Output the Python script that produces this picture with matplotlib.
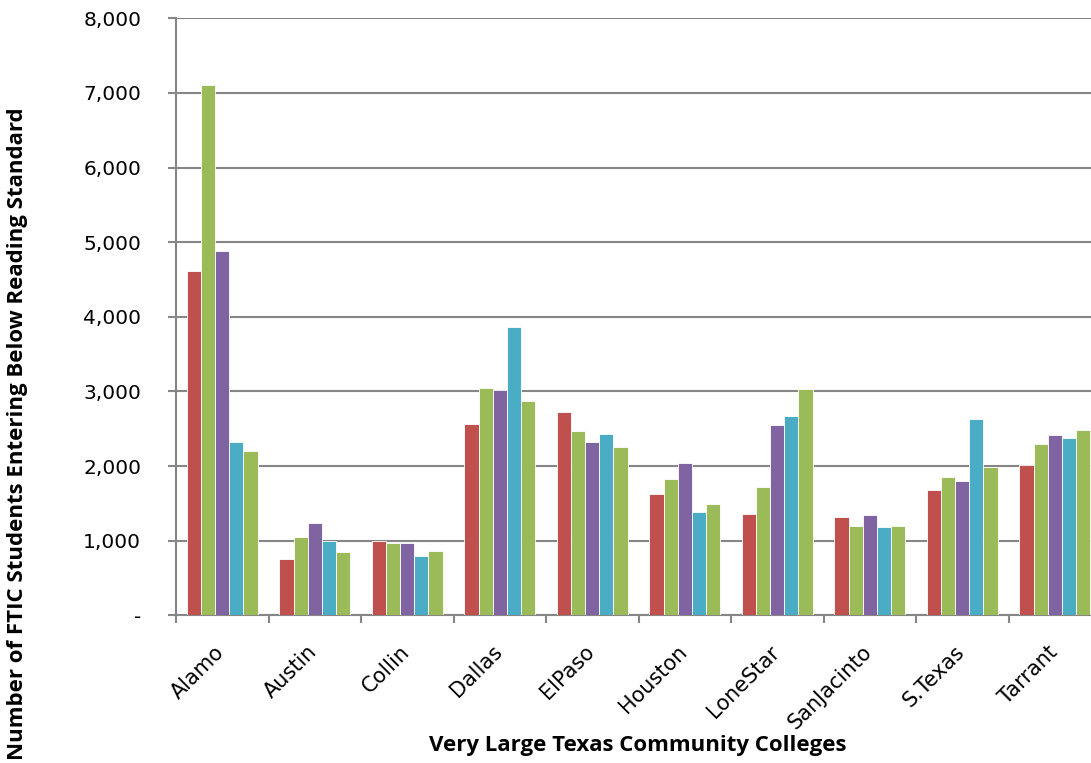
import matplotlib
matplotlib.use("Agg")
import matplotlib.pyplot as plt
import numpy as np
from matplotlib.ticker import FuncFormatter, FixedLocator

colleges = ["Alamo", "Austin", "Collin", "Dallas", "ElPaso", "Houston",
            "LoneStar", "SanJacinto", "S.Texas", "Tarrant"]
series1 = [4620, 750, 1000, 2565, 2725, 1625, 1360, 1315, 1675, 2020]
series2 = [7110, 1050, 970, 3040, 2475, 1825, 1715, 1195, 1855, 2295]
series3 = [4880, 1235, 965, 3015, 2325, 2035, 2550, 1340, 1805, 2420]
series4 = [2320, 1000, 790, 3860, 2425, 1385, 2670, 1180, 2635, 2380]
series5 = [2200, 850, 860, 2865, 2260, 1490, 3030, 1200, 1990, 2485]
all_series = [series1, series2, series3, series4, series5]
colors = ["#C0504D", "#9BBB59", "#8064A2", "#4BACC6", "#9BBB59"]
yticks = [0, 1000, 2000, 3000, 4000, 5000, 6000, 7000, 8000]

W, H = 1091, 763
fig = plt.figure(figsize=(W / 100, H / 100), dpi=100)
ax = fig.add_axes([176 / W, (H - 615.3) / H, 925 / W, 597 / H])

n = len(all_series)
x = np.arange(len(colleges))
bw = 0.765 / n
for i, (vals, c) in enumerate(zip(all_series, colors)):
    ax.bar(x + (i - (n - 1) / 2) * bw, vals, width=bw, color=c,
           edgecolor="white", linewidth=0.6, zorder=3)

ax.set_xlim(-0.5, len(colleges) - 0.5)
ax.set_ylim(0, 8000)
ax.set_yticks(yticks)
ax.yaxis.set_major_formatter(FuncFormatter(lambda v, p: "-" if v == 0 else f"{int(v):,}"))
ax.grid(axis="y", color="#868686", linewidth=1.5, zorder=0)
ax.set_axisbelow(True)

# label anchors nudged slightly left so the rotated text ends at the category centre
ax.set_xticks(x - 0.085)
ax.set_xticklabels(colleges, rotation=45, ha="right", va="top",
                   rotation_mode="anchor", fontsize=15, family="DejaVu Sans")
ax.xaxis.set_minor_locator(FixedLocator(np.arange(-0.5, len(colleges), 1.0)))
ax.tick_params(axis="x", which="major", length=0, pad=19)
ax.tick_params(axis="x", which="minor", length=6, width=1.5, color="#868686")
ax.tick_params(axis="y", length=6, width=1.5, color="#868686", pad=19,
               labelsize=14.5)
for lbl in ax.get_yticklabels():
    lbl.set_family("DejaVu Sans")

for s in ["top", "right"]:
    ax.spines[s].set_visible(False)
for s in ["left", "bottom"]:
    ax.spines[s].set_color("#868686")
    ax.spines[s].set_linewidth(1.5)

fig.text(18 / W, 1 - 434 / H, "Number of FTIC Students Entering Below Reading Standard",
         rotation=90, ha="center", va="center", fontsize=16,
         fontweight="bold", family="Open Sans")
fig.text(638 / W, 1 - 746 / H, "Very Large Texas Community Colleges",
         ha="center", va="center", fontsize=16, fontweight="bold",
         family="Open Sans")

fig.savefig("out.png", dpi=100)
